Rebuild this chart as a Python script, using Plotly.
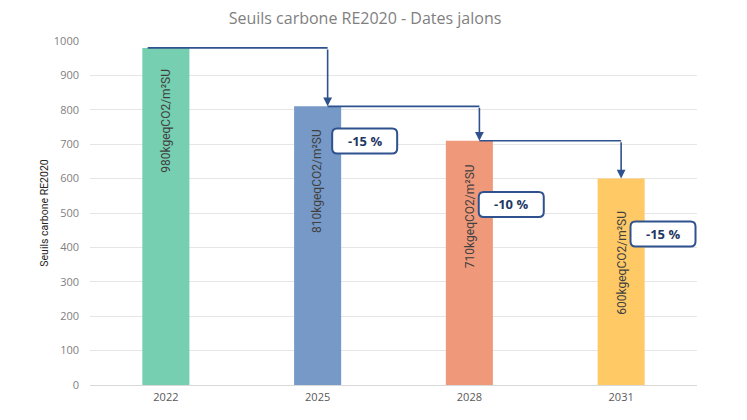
""" Seuils carbone RE2020 - bar chart with milestone arrows """

from plotly import graph_objects as go

# Data
years = ["2022", "2025", "2028", "2031"]
seuils = [980, 810, 710, 600]
bar_labels = ["980kgeqCO2/m²SU", "810kgeqCO2/m²SU", "710kgeqCO2/m²SU", "600kgeqCO2/m²SU"]
reductions = ["-15 %", "-10 %", "-15 %"]
y_ticks = [0, 100, 200, 300, 400, 500, 600, 700, 800, 900, 1000]

# Styles / placement
bar_colors = ["#76CFB1", "#7699C7", "#F0997A", "#FFCA66"]
arrow_color = "#2F528F"
label_shift = [19, 21, 21, 30]          # px gap between bar top and rotated label
arrow_offset = [0.066, 0.066, 0.0]      # arrow x offset from target bar centre
box_dx = [0.31, 0.276, 0.276]           # box centre x offset from target bar centre
box_dy = [101, 185, 161]                # box centre below target bar top (data units)
FONT = "Open Sans"
NARROW = "Roboto"


def rounded_box(w, h, r):
    """Rounded rectangle path in pixels, centred on the anchor."""
    x0, x1, y0, y1 = -w / 2, w / 2, -h / 2, h / 2
    return (f"M {x0 + r},{y0} L {x1 - r},{y0} Q {x1},{y0} {x1},{y0 + r} "
            f"L {x1},{y1 - r} Q {x1},{y1} {x1 - r},{y1} "
            f"L {x0 + r},{y1} Q {x0},{y1} {x0},{y1 - r} "
            f"L {x0},{y0 + r} Q {x0},{y0} {x0 + r},{y0} Z")


def create_figure():
    xs = list(range(len(years)))

    fig = go.Figure(go.Bar(
        x=xs,
        y=seuils,
        width=0.31,
        marker=dict(color=bar_colors, line_width=0),
        hoverinfo="skip",
    ))

    # Rotated labels inside the bars
    for i, (val, lab) in enumerate(zip(seuils, bar_labels)):
        fig.add_annotation(
            x=xs[i], y=val, text=lab, textangle=-90, showarrow=False,
            yanchor="top", xanchor="center", yshift=-label_shift[i],
            font=dict(family=NARROW, size=12, color="#404040"))

    # Milestone connectors: horizontal line then arrow down onto next bar
    start_x = xs[0] - 0.12
    for i in range(1, len(years)):
        tx = xs[i] + arrow_offset[i - 1]
        fig.add_shape(type="line", xref="x", yref="y",
                      x0=start_x, x1=tx, y0=seuils[i - 1], y1=seuils[i - 1],
                      line=dict(color=arrow_color, width=1.6), layer="above")
        fig.add_annotation(
            x=tx, y=seuils[i], ax=tx, ay=seuils[i - 1],
            xref="x", yref="y", axref="x", ayref="y",
            showarrow=True, arrowhead=2, arrowsize=1.1, arrowwidth=1.6,
            arrowcolor=arrow_color, standoff=0, text="")
        start_x = tx

        # reduction box
        bx = xs[i] + box_dx[i - 1]
        by = seuils[i] - box_dy[i - 1]
        fig.add_shape(type="path", xref="x", yref="y",
                      xsizemode="pixel", ysizemode="pixel",
                      xanchor=bx, yanchor=by,
                      path=rounded_box(65, 25, 5),
                      line=dict(color=arrow_color, width=2),
                      fillcolor="white", layer="above")
        fig.add_annotation(
            x=bx, y=by, text=f"<b>{reductions[i - 1]}</b>", showarrow=False,
            font=dict(family=FONT, size=13, color="#1F3864"))

    # the page puts the figure 8px in from the top-left corner
    fig.update_layout(
        width=747,
        height=420,
        margin=dict(l=82, r=58, t=33, b=43),
        paper_bgcolor="white",
        plot_bgcolor="white",
        showlegend=False,
        title=dict(text="Seuils carbone RE2020 - Dates jalons",
                   x=357 / 747, xanchor="center", y=1 - 10 / 420, yanchor="middle",
                   font=dict(family=FONT, size=16, color="#7F7F7F")),
        xaxis=dict(
            tickmode="array", tickvals=xs, ticktext=years,
            range=[-0.5, len(years) - 0.5],
            showgrid=False, zeroline=False, showline=False, ticks="",
            ticklabelstandoff=4,
            tickfont=dict(family=FONT, size=11, color="#595959")),
        yaxis=dict(
            title=dict(text="Seuils carbone RE2020", standoff=3,
                       font=dict(family=NARROW, size=10.5, color="#262626")),
            range=[0, 1000], tickmode="array", tickvals=y_ticks,
            showgrid=True, gridcolor="#E6E6E6", gridwidth=1,
            zeroline=True, zerolinecolor="#D9D9D9", zerolinewidth=1,
            showline=False, ticks="", ticklabelstandoff=10,
            tickfont=dict(family=FONT, size=11, color="#7F7F7F")),
    )
    return fig


def main():
    fig = create_figure()
    fig.write_html("out.html")


if __name__ == "__main__":
    main()
